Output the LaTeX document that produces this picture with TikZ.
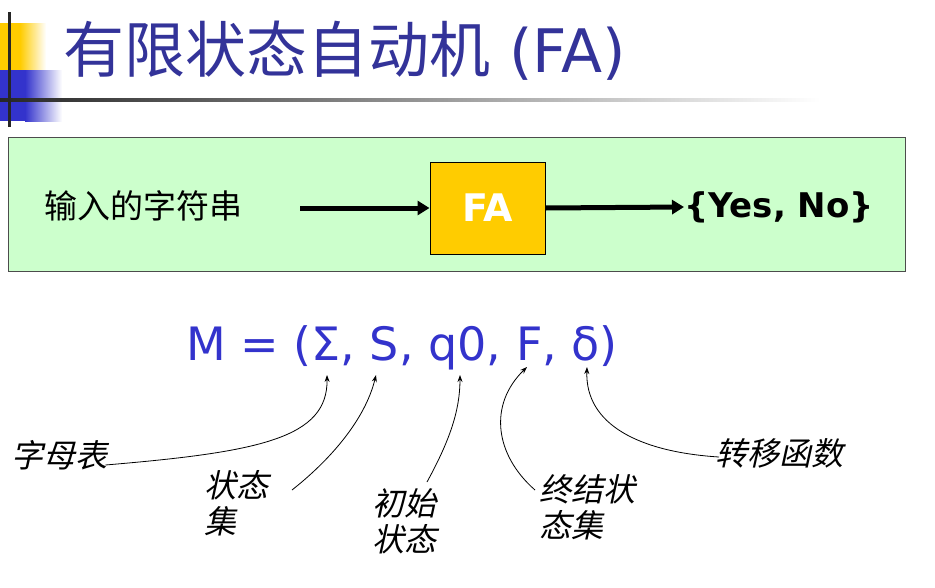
\documentclass[tikz,border=0pt]{standalone}
\usepackage{fontspec}
\setmainfont{DejaVu Sans}
\newfontfamily\cjk{Noto Sans CJK SC}
\newfontfamily\cjkit[FakeSlant=0.22]{Noto Sans CJK SC}
\usetikzlibrary{arrows.meta}
\definecolor{titleblue}{HTML}{333399}
\definecolor{formblue}{HTML}{3333CC}
\definecolor{barblue}{HTML}{3333CC}
\definecolor{faorange}{HTML}{FFCC00}
\definecolor{boxgreen}{HTML}{CCFFCC}
\tikzset{
  lbl/.style={font=\cjkit\fontsize{32}{36}\selectfont, inner sep=0pt, align=left, anchor=west},
  pointer/.style={-{Stealth[length=7pt,width=5pt]}, line width=0.8pt, black},
  flow/.style={-{Triangle[length=12pt,width=14pt]}, line width=5pt, black},
}
\begin{document}
\begin{tikzpicture}[x=1pt,y=-1pt]
\useasboundingbox (0,0) rectangle (935,587);
% decoration blocks
\fill[faorange] (0,23) rectangle (20,70);
\shade[left color=faorange, right color=white] (20,23) rectangle (46,70);
\fill[barblue] (0,70) rectangle (25,121);
\shade[left color=barblue, right color=white] (25,70) rectangle (62,121);
\shade[left color=black!85, right color=white] (0,98.5) rectangle (820,101.5);
\fill[black!85] (7.5,12) rectangle (10.5,127);
% title
\node[anchor=base west, inner sep=0pt, text=titleblue] (title) at (63,72)
  {{\cjk\fontsize{61}{66}\selectfont 有限状态自动机}{\fontsize{60}{66}\selectfont\ (FA)}};
% green box
\node[draw=black!70, line width=1.2pt, fill=boxgreen, minimum width=897pt, minimum height=134pt, anchor=north west, inner sep=0pt] (panel) at (8,137) {};
\node[anchor=west, inner sep=0pt, font=\cjk\fontsize{33}{38}\selectfont] (input) at (44,206) {输入的字符串};
\node[draw=black, line width=1pt, fill=faorange, minimum width=115pt, minimum height=92pt, inner sep=0pt, text=white, font=\bfseries\fontsize{38}{44}\selectfont] (fa) at (487.5,208) {FA};
\node[anchor=west, inner sep=0pt, font=\bfseries\fontsize{34}{40}\selectfont] (out) at (684,207) {\{Yes, No\}};
\coordinate (instart) at (300,208);
\draw[flow] (instart) -- (fa.west);
\draw[flow] (fa.east) -- (out.west);
% formula
\node[anchor=base west, inner sep=0pt, text=formblue, font=\fontsize{46}{54}\selectfont] (formula) at (186,360) {M = (Σ, S, q0, F, δ)};
\coordinate (tSigma) at (327,375);
\coordinate (tS) at (376,375);
\coordinate (tq) at (460,375);
\coordinate (tF) at (527,367);
\coordinate (td) at (587,367);
% labels
\node[lbl] (alpha) at (11,455) {字母表};
\node[lbl] (states) at (204,503) {状态\\集};
\node[lbl] (init) at (372,521) {初始\\状态};
\node[lbl] (final) at (539,507) {终结状\\态集};
\node[lbl] (trans) at (715,453) {转移函数};
% pointers
\draw[pointer] (alpha.east) ++(-2,10) .. controls (260,452) and (328,438) .. (tSigma);
\draw[pointer] (292,490) .. controls (330,460) and (365,420) .. (tS);
\draw[pointer] (427,482) .. controls (450,440) and (460,410) .. (tq);
\draw[pointer] (535,490) .. controls (495,455) and (488,405) .. (tF);
\draw[pointer] (trans.west) ++(4,4) .. controls (640,452) and (585,425) .. (td);
\end{tikzpicture}
\end{document}
